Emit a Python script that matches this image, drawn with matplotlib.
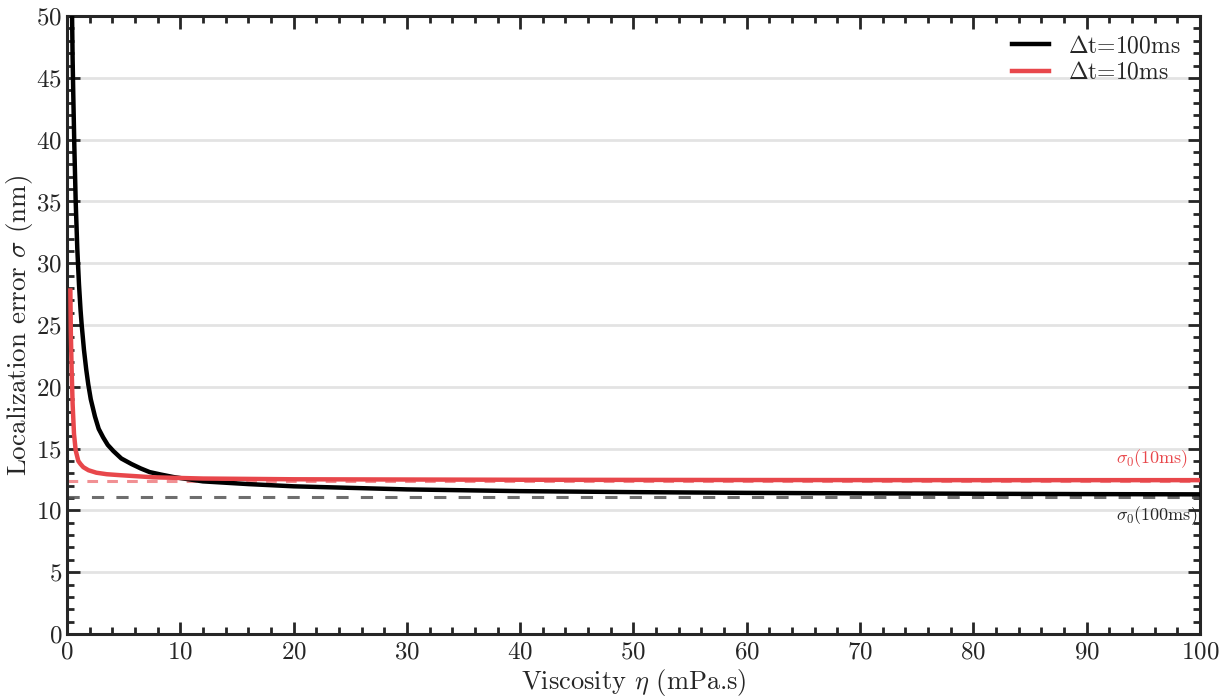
import matplotlib
matplotlib.use("Agg")
import matplotlib.pyplot as plt
from matplotlib.ticker import MultipleLocator

plt.rcParams['font.family'] = 'serif'
plt.rcParams['font.serif'] = ['cmr10']
plt.rcParams['mathtext.fontset'] = 'cm'
plt.rcParams['axes.formatter.use_mathtext'] = True

# values
eta_100 = [0.45, 0.5, 0.56, 0.65, 0.77, 0.91, 1.06, 1.2, 1.3, 1.4, 1.5, 1.7, 1.88, 2.1,
           2.47, 2.8, 3.2, 3.6, 4.1, 4.8, 5.7, 6.5, 7.3, 8.3, 9.4, 12, 16, 20, 30, 40,
           50, 60, 70, 80, 90, 100]
sigma_100 = [50, 46.5, 43.5, 39.5, 35.0, 31.2, 28.3, 26.2, 25.0, 24.0, 23.0, 21.4, 20.2,
             19.0, 17.6, 16.6, 15.9, 15.3, 14.8, 14.2, 13.75, 13.4, 13.1, 12.9, 12.7,
             12.35, 12.13, 11.95, 11.7, 11.56, 11.48, 11.42, 11.38, 11.35, 11.32, 11.3]
eta_10 = [0.3, 0.34, 0.41, 0.5, 0.62, 0.77, 1.0, 1.2, 1.44, 1.9, 2.6, 3.5, 4.7, 7.6, 12,
          20, 40, 60, 80, 100]
sigma_10 = [27.8, 24.5, 21.5, 18.6, 16.2, 14.85, 14.0, 13.75, 13.5, 13.25, 13.05, 12.93,
            12.85, 12.68, 12.58, 12.52, 12.48, 12.46, 12.45, 12.45]
sigma0_100 = 11.1
sigma0_10 = 12.4

red = '#e8474b'
dark = '#262626'

fig = plt.figure(figsize=(12.31, 7), dpi=100)
ax = fig.add_axes([0.0544, 0.0943, 0.9204, 0.8827])

ax.axhline(sigma0_100, color='#555555', alpha=0.85, lw=2.2, dashes=(4, 4), zorder=2)
ax.axhline(sigma0_10, color=red, alpha=0.6, lw=2.2, dashes=(3.5, 3), zorder=2)
ax.plot(eta_100, sigma_100, color='black', lw=3.2, label=r'$\Delta$t=100ms', zorder=3)
ax.plot(eta_10, sigma_10, color=red, lw=3.2, label=r'$\Delta$t=10ms', zorder=4)

ax.text(99, 13.3, r'$\sigma_0$(10ms)', color=red, ha='right', va='bottom', fontsize=13)
ax.text(99.8, 10.5, r'$\sigma_0$(100ms)', color=dark, ha='right', va='top', fontsize=13)

ax.set_xlim(0, 100)
ax.set_ylim(0, 50)
ax.xaxis.set_major_locator(MultipleLocator(10))
ax.xaxis.set_minor_locator(MultipleLocator(2))
ax.yaxis.set_major_locator(MultipleLocator(5))
ax.yaxis.set_minor_locator(MultipleLocator(1))
ax.tick_params(which='both', direction='in', top=True, right=True, color=dark,
               labelcolor=dark, labelsize=18, width=2)
ax.tick_params(which='major', length=9)
ax.tick_params(which='minor', length=5)
ax.tick_params(axis='x', which='major', pad=5)
for s in ax.spines.values():
    s.set_linewidth(2.2)
    s.set_color(dark)
ax.yaxis.grid(True, color='#e3e3e3', lw=2)
ax.set_axisbelow(True)

ax.set_xlabel(r'Viscosity $\eta$ (mPa.s)', fontsize=19, color=dark, labelpad=3)
ax.set_ylabel(r'Localization error $\sigma$ (nm)', fontsize=19.5, color=dark, labelpad=0.5)

ax.legend(loc='upper right', frameon=False, fontsize=17, handlelength=1.6,
          labelspacing=0.2, borderaxespad=0.4, labelcolor=dark)

fig.savefig('out.png', dpi=100)
